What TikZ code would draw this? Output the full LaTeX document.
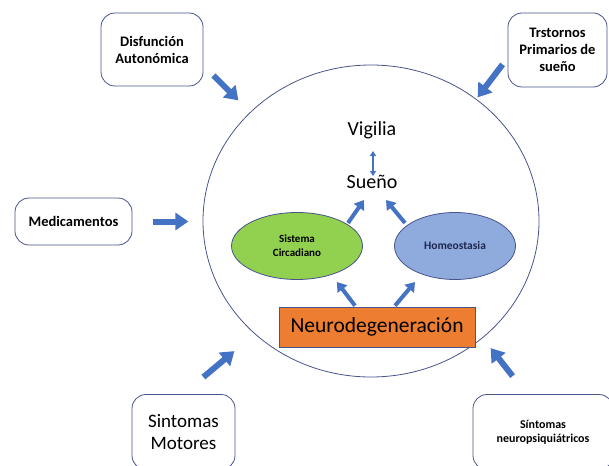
\documentclass[tikz,border=0pt]{standalone}
\usepackage{fontspec}
\setmainfont{Carlito}
\usetikzlibrary{arrows.meta, shapes.geometric, calc}
\definecolor{arrowblue}  {RGB}{68,  114, 196}
\definecolor{edgeblue}   {RGB}{72,  84,  140}
\definecolor{circgreen}  {RGB}{146, 208, 80}
\definecolor{homeoblue}  {RGB}{143, 170, 220}
\definecolor{neuroorange}{RGB}{237, 125, 49}
\definecolor{navytext}   {RGB}{30,  40,  80}
\tikzset{
  causebox/.style={
    draw=edgeblue, line width=0.8pt, rounded corners=14pt,
    fill=white, align=center,
    font=\bfseries\fontsize{14.5}{17}\selectfont
  },
  clockoval/.style={
    ellipse, draw=edgeblue, line width=0.8pt, inner sep=0pt,
    minimum height=67pt, align=center
  },
  statelabel/.style={
    font=\fontsize{20}{24}\selectfont, inner sep=2pt
  },
  pusharrow/.style={
    -{Triangle[width=17pt,length=13pt]}, line width=6pt, color=arrowblue
  },
  flowarrow/.style={
    -{Triangle[width=12pt,length=9pt]}, line width=4pt, color=arrowblue
  },
}
\begin{document}
\begin{tikzpicture}[x=1pt, y=-1pt]
  \useasboundingbox (0,0) rectangle (609,465);
  \node[ellipse, draw=edgeblue, line width=0.8pt, inner sep=0pt,
        minimum width=336pt, minimum height=312pt] (ring) at (371,221) {};
  % inner states
  \node[statelabel] (vig) at (372,130) {Vigilia};
  \node[statelabel] (sue) at (372,182) {Sueño};
  \node[clockoval, fill=circgreen, minimum width=131pt,
        font=\bfseries\fontsize{11}{14}\selectfont] (circ) at (297,246)
        {Sistema\\Circadiano};
  \node[clockoval, fill=homeoblue, minimum width=121pt, text=navytext,
        font=\bfseries\fontsize{11.5}{14}\selectfont] (homeo) at (455,246)
        {Homeostasia};
  \node[draw=edgeblue, line width=0.6pt, fill=neuroorange,
        minimum width=196pt, minimum height=40pt,
        font=\fontsize{21.5}{24}\selectfont] (neuro) at (377,327)
        {Neurodegeneración};
  % outer causes
  \node[causebox, minimum width=102pt, minimum height=73pt] (dis) at (152,49.5)
        {Disfunción\\Autonómica};
  \node[causebox, minimum width=99pt, minimum height=74pt] (trs) at (557.5,50)
        {Trstornos\\Primarios de\\sueño};
  \node[causebox, minimum width=117pt, minimum height=47pt] (med) at (73.5,221.5)
        {Medicamentos};
  \node[causebox, minimum width=103pt, minimum height=75pt,
        font=\fontsize{19}{22}\selectfont] (mot) at (183.5,432)
        {Sintomas\\Motores};
  \node[causebox, minimum width=140pt, minimum height=75pt,
        font=\bfseries\fontsize{12}{14}\selectfont] (neu) at (543,432)
        {Síntomas\\neuropsiquiátricos};
  \draw[pusharrow] ($(dis.south east)+(10,-11)$) -- ($(dis.south east)+(35,14)$);
  \draw[pusharrow] ($(trs.south west)+(-5,-23)$) -- ($(trs.south west)+(-30,10)$);
  \draw[pusharrow] ($(med.east)+(21,0)$) -- ($(med.east)+(56,0)$);
  \draw[pusharrow] ($(mot.north east)+(-32,-17)$) -- ($(mot.north east)+(-1,-43)$);
  \draw[pusharrow] ($(neu.north west)+(40,-18)$) -- ($(neu.north west)+(18,-46)$);
  % inner flows
  \draw[{Triangle[width=6pt,length=5pt]}-{Triangle[width=6pt,length=5pt]},
        line width=1.5pt, color=arrowblue]
        ($(vig.center)+(1,21)$) -- ($(sue.center)+(1,-6)$);
  \draw[flowarrow] ($(circ.center)+(51,-23)$) -- ($(sue.center)+(-8,18)$);
  \draw[flowarrow] ($(homeo.center)+(-50,-23)$) -- ($(sue.center)+(14,18)$);
  \draw[flowarrow] ($(neuro.north)+(-22,-1)$) -- ($(circ.center)+(40,36)$);
  \draw[flowarrow] ($(neuro.north)+(18,-1)$) -- ($(homeo.center)+(-40,36)$);
\end{tikzpicture}
\end{document}
